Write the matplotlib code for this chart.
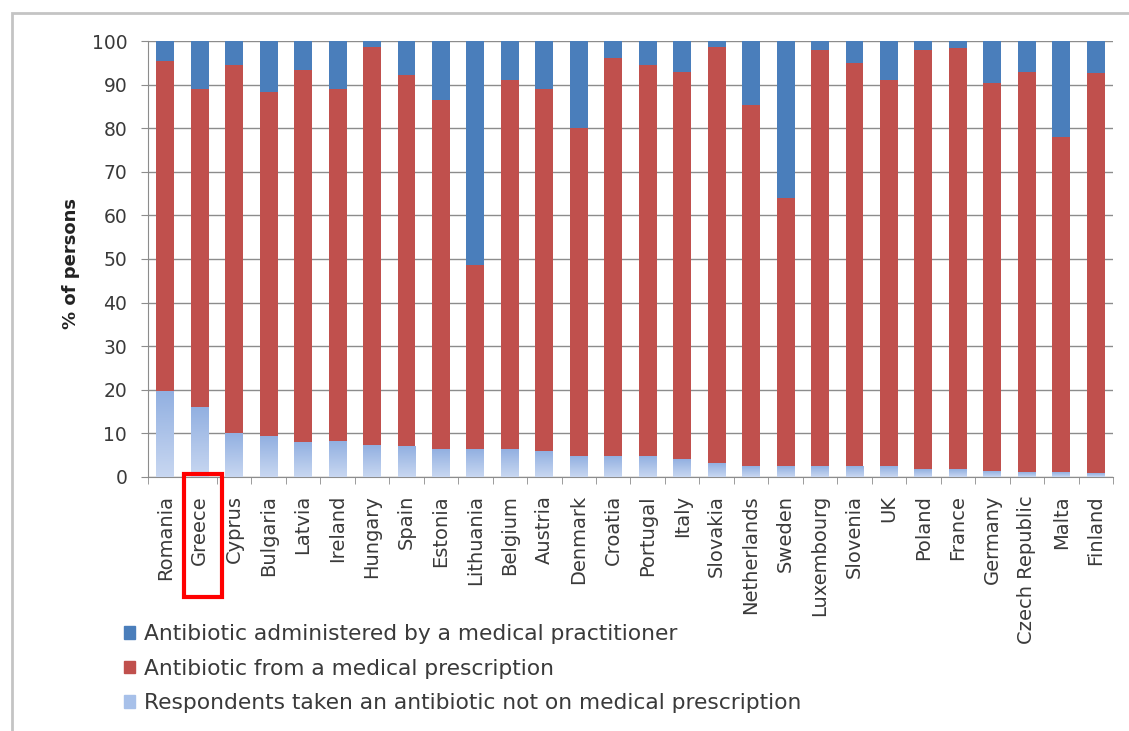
import numpy as np
import matplotlib
matplotlib.use("Agg")
import matplotlib.pyplot as plt
from matplotlib.patches import Rectangle, Patch
from matplotlib.colors import LinearSegmentedColormap

plt.rcParams['font.family'] = ['DejaVu Sans']

countries = ['Romania', 'Greece', 'Cyprus', 'Bulgaria', 'Latvia', 'Ireland', 'Hungary',
             'Spain', 'Estonia', 'Lithuania', 'Belgium', 'Austria', 'Denmark', 'Croatia',
             'Portugal', 'Italy', 'Slovakia', 'Netherlands', 'Sweden', 'Luxembourg',
             'Slovenia', 'UK', 'Poland', 'France', 'Germany', 'Czech Republic', 'Malta',
             'Finland']

# % of persons, stacked bottom to top
not_on_prescription = [19.6, 15.9, 10.0, 9.2, 8.0, 8.1, 7.3, 6.9, 6.4, 6.2, 6.2, 5.8, 4.8,
                       4.8, 4.6, 4.1, 3.1, 2.5, 2.4, 2.4, 2.3, 2.3, 1.8, 1.7, 1.2, 1.1,
                       1.0, 0.8]
from_prescription = [75.7, 73.2, 84.5, 79.2, 85.3, 81.0, 91.4, 85.3, 80.1, 42.4, 84.9, 83.1,
                     75.2, 91.2, 89.9, 88.9, 95.6, 82.8, 61.6, 95.5, 92.6, 88.8, 96.1, 96.6,
                     89.1, 91.9, 77.0, 91.8]
administered = [4.7, 10.9, 5.5, 11.6, 6.7, 10.9, 1.3, 7.8, 13.5, 51.4, 8.9, 11.1, 20.0, 4.0,
                5.5, 7.0, 1.3, 14.7, 36.0, 2.1, 5.1, 8.9, 2.1, 1.7, 9.7, 7.0, 22.0, 7.4]

legend_labels = ['Antibiotic administered by a medical practitioner',
                 'Antibiotic from a medical prescription',
                 'Respondents taken an antibiotic not on medical prescription']

c_admin = '#4A7EBB'
c_presc = '#C0504D'
c_light = '#A7C0E9'
c_text = '#3A3A3A'
c_axis = '#8C8C8C'

fig = plt.figure(figsize=(11.29, 7.31), dpi=100)
ax = fig.add_axes([0.1311, 0.3475, 0.8547, 0.5964])

x = np.arange(len(countries))
low = np.array(not_on_prescription)
mid = np.array(from_prescription)
top = np.array(administered)
w = 0.52
low_bars = ax.bar(x, low, w, color=c_light, zorder=3)
ax.bar(x, mid, w, bottom=low, color=c_presc, zorder=3)
ax.bar(x, top, w, bottom=low + mid, color=c_admin, zorder=3)

# light gradient fill on the bottom segment, paler towards the axis
grad_cmap = LinearSegmentedColormap.from_list('lightfill', ['#C8D7F1', '#92B0E1'])
grad = np.linspace(0, 1, 64).reshape(-1, 1)
for bar in low_bars:
    bx, by = bar.get_x(), bar.get_y()
    ax.imshow(grad, cmap=grad_cmap, origin='lower', aspect='auto', zorder=3.5,
              extent=[bx, bx + bar.get_width(), by, by + bar.get_height()])

ax.set_xlim(-0.5, len(countries) - 0.5)
ax.set_ylim(0, 100)
ax.set_yticks(np.arange(0, 101, 10))
ax.yaxis.grid(True, color=c_axis, linewidth=1, zorder=0)
ax.set_axisbelow(True)

ax.set_xticks(x)
ax.set_xticklabels(countries, rotation=90, fontsize=14, color=c_text)
ax.set_xticks(np.arange(-0.5, len(countries)), minor=True)
ax.tick_params(axis='x', which='major', length=0, pad=13)
ax.tick_params(axis='x', which='minor', length=5, color=c_axis)
ax.tick_params(axis='y', length=5, color=c_axis, labelsize=13.5, labelcolor=c_text, pad=10)

for s in ['top', 'right']:
    ax.spines[s].set_visible(False)
for s in ['left', 'bottom']:
    ax.spines[s].set_color(c_axis)

ax.set_ylabel('% of persons', fontsize=13, fontweight='bold', color='#222222')
ax.yaxis.set_label_coords(-0.071, 0.49)

handles = [Patch(color=c_admin), Patch(color=c_presc), Patch(color=c_light)]
fig.legend(handles, legend_labels, loc='upper left', bbox_to_anchor=(0.110, 0.146),
           frameon=False, fontsize=15.7, handlelength=0.5, handleheight=0.5,
           handletextpad=0.42, labelspacing=0.66, borderaxespad=0, borderpad=0,
           labelcolor=c_text)

# outer chart frame
fig.add_artist(Rectangle((12 / 1129, -0.05), 1.2, 1 - 13 / 731 + 0.05,
                         transform=fig.transFigure, fill=False,
                         edgecolor='#C4C4C4', linewidth=2))

# highlight box around the Greece label
fig.add_artist(Rectangle((184 / 1129, 1 - 597 / 731), 38 / 1129, 123 / 731,
                         transform=fig.transFigure, fill=False,
                         edgecolor='#FF0000', linewidth=3, zorder=10))

fig.savefig('out.png', dpi=100)
